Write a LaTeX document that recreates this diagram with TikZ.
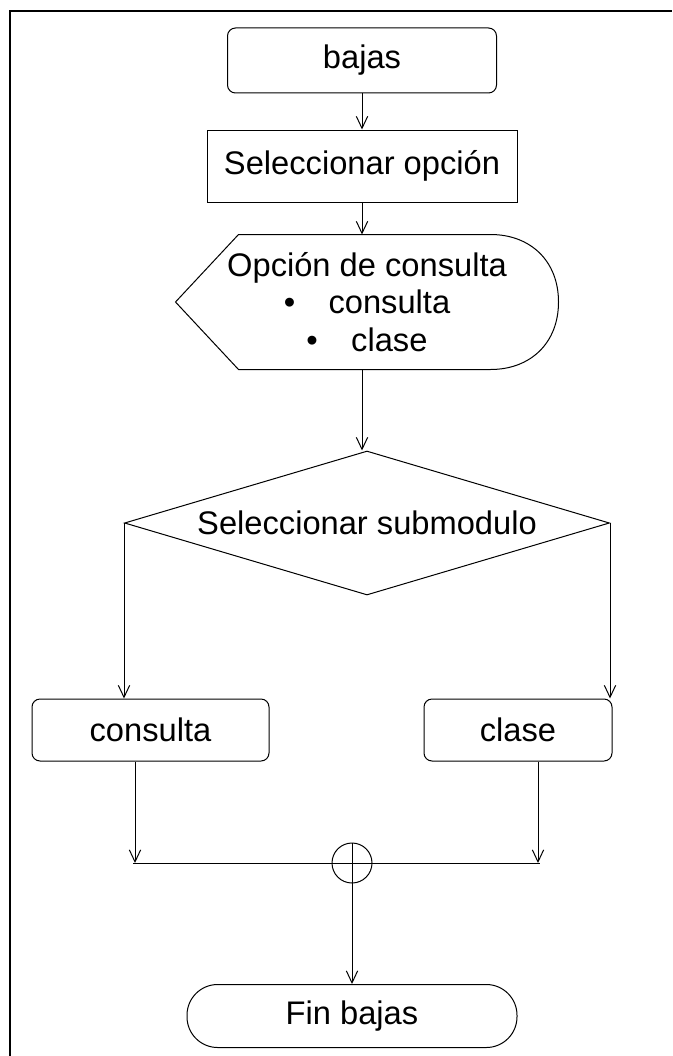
\documentclass[tikz,border=0pt]{standalone}
\usepackage{fontspec}
\setmainfont{Liberation Sans}
\usetikzlibrary{positioning, arrows.meta, shapes.geometric, calc}

\begin{document}
\begin{tikzpicture}[x=0.75pt, y=-0.75pt,
  font=\fontsize{24.5}{28}\selectfont,
  line width=0.75pt,
  box/.style={draw, rectangle, inner sep=0pt},
  rbox/.style={box, rounded corners=6pt},
  flow/.style={-{Straight Barb[length=9pt, width=8.5pt]}},
  frame/.style={line width=1.5pt}]
\useasboundingbox (0,0) rectangle (672,1056);
% page frame (cut at right and bottom)
\draw[frame] (10,1056) -- (10,11) -- (672,11);

% start and first step
\node[rbox, minimum width=201.75pt, minimum height=48.75pt] (bajas) at (362,60.5) {bajas};
\node[box, minimum width=232.5pt, minimum height=54pt] (opcion) at (362,166) {Seleccionar opción};
\draw[flow] (bajas) -- (opcion);

% display shape
\node[minimum width=286.5pt, minimum height=100.5pt, inner sep=0pt, align=center] (disp) at (367,302)
  {Opción de consulta\\ \textbullet\hspace{25pt}consulta\\ \textbullet\hspace{25pt}clase};
\draw (disp.west) -- ($(disp.north west)+(63,0)$) -- ($(disp.north east)+(-68,0)$)
  .. controls ($(disp.north east)+(-28,0)$) and ($(disp.east)+(0,-41)$) .. (disp.east)
  .. controls ($(disp.east)+(0,41)$) and ($(disp.south east)+(-28,0)$) .. ($(disp.south east)+(-68,0)$)
  -- ($(disp.south west)+(63,0)$) -- cycle;
\draw[flow] (opcion.south) -- (opcion.south |- disp.north);

% decision
\node[diamond, draw, inner sep=0pt, minimum width=363.75pt, minimum height=108pt] (sub) at (367,523)
  {\makebox[0pt]{Seleccionar submodulo}};
\draw[flow] (opcion.south |- disp.south) -- (opcion.south |- sub.north);

% submodules
\node[rbox, minimum width=177.75pt, minimum height=46.5pt] (cons) at (150.5,730) {consulta};
\node[rbox, minimum width=141pt, minimum height=46.5pt] (clase) at (518,730) {clase};
\draw[flow] (sub.west) -- (sub.west |- cons.north);
\draw[flow] (sub.east) -- (sub.east |- clase.north);

% join
\coordinate (joinL) at (135,863);
\coordinate (joinR) at (538,863);
\node[circle, draw, minimum size=30pt, inner sep=0pt] (merge) at (352,863) {};
\draw ($(joinL)+(-2,0)$) -- ($(joinR)+(2,0)$);
\draw[flow] (cons.south -| joinL) -- (joinL);
\draw[flow] (clase.south -| joinR) -- (joinR);

% end
\node[box, rounded corners=23pt, minimum width=247.5pt, minimum height=47.25pt] (fin) at (352,1016) {Fin bajas};
\draw[flow] (merge.north) -- (fin.north);
\end{tikzpicture}
\end{document}
